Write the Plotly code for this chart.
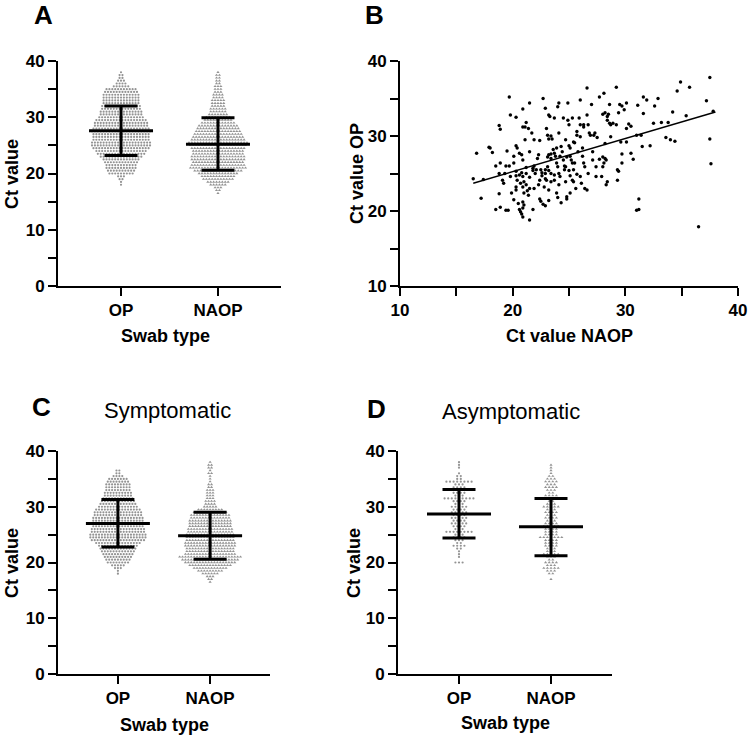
import plotly.graph_objects as go

# ---------------- data ----------------
groups = ["OP", "NAOP"]

# Ct levels used for the dot-plot rows (panels A, C, D)
ct_levels = [16.5, 17.0, 17.5, 18.0, 18.5, 19.0, 19.5, 20.0, 20.5, 21.0, 21.5,
             22.0, 22.5, 23.0, 23.5, 24.0, 24.5, 25.0, 25.5, 26.0, 26.5, 27.0,
             27.5, 28.0, 28.5, 29.0, 29.5, 30.0, 30.5, 31.0, 31.5, 32.0, 32.5,
             33.0, 33.5, 34.0, 34.5, 35.0, 35.5, 36.0, 36.5, 37.0, 37.5, 38.0]

# number of samples at each Ct level
all_op_counts = [0, 0, 0, 1, 1, 2, 3, 9, 10, 11, 11, 12, 13, 15, 17, 18, 20, 21, 21, 20, 20, 20,
                 21, 20, 19, 19, 18, 16, 15, 15, 14, 14, 13, 13, 13, 13, 12, 11, 6, 4, 3, 2, 2, 1]
all_naop_counts = [1, 2, 3, 6, 8, 11, 12, 14, 17, 20, 19, 18, 19, 19, 18, 18, 19, 20, 21, 19, 18, 17,
                   16, 15, 14, 12, 10, 9, 7, 6, 6, 5, 5, 5, 4, 4, 3, 3, 3, 2, 2, 2, 2, 1]
sym_op_counts = [0, 0, 0, 1, 1, 3, 5, 8, 9, 10, 11, 12, 13, 14, 16, 19, 20, 20, 19, 19, 18, 18,
                 18, 18, 17, 17, 16, 14, 13, 12, 11, 10, 10, 9, 9, 9, 8, 7, 4, 2, 2, 0, 0, 0]
sym_naop_counts = [1, 2, 3, 6, 9, 12, 15, 18, 20, 22, 18, 17, 17, 18, 18, 17, 17, 17, 16, 16, 15, 15,
                   15, 14, 14, 12, 9, 5, 4, 4, 3, 3, 3, 3, 2, 2, 1, 1, 1, 2, 1, 2, 2, 1]
asym_op_counts = [0, 0, 0, 0, 0, 0, 0, 3, 0, 1, 1, 1, 2, 4, 2, 3, 4, 3, 8, 3, 4, 5,
                  4, 5, 4, 5, 4, 5, 3, 4, 9, 3, 4, 4, 4, 3, 8, 2, 2, 1, 0, 1, 1, 1]
asym_naop_counts = [0, 1, 0, 2, 3, 5, 3, 4, 2, 3, 5, 3, 3, 4, 4, 4, 7, 4, 4, 4, 5, 4,
                    3, 4, 3, 4, 3, 5, 3, 2, 2, 4, 2, 3, 4, 3, 4, 3, 2, 1, 1, 1, 1, 0]

# mean and mean±SD (OP, NAOP)
all_mean = [27.6, 25.2]
all_sd_low = [23.2, 20.6]
all_sd_high = [32.0, 29.9]
sym_mean = [27.0, 24.8]
sym_sd_low = [22.8, 20.6]
sym_sd_high = [31.3, 29.0]
asym_mean = [28.7, 26.4]
asym_sd_low = [24.4, 21.2]
asym_sd_high = [33.1, 31.5]

# panel B: paired Ct values
naop_ct = [16.5, 16.8, 17.2, 17.4, 17.9, 18.0, 18.2, 18.5, 18.5, 18.8, 18.9, 18.8, 18.9, 18.8, 18.9,
           19.1, 19.2, 19.3, 19.4, 19.6, 19.5, 19.4, 19.7, 19.7, 19.8, 19.8, 19.9, 20.1, 20.1, 20.1,
           20.3, 20.4, 20.3, 20.3, 20.3, 20.4, 20.3, 20.3, 20.5, 20.6, 20.6, 20.8, 20.6, 20.7, 20.8,
           20.7, 20.8, 20.9, 20.9, 21.1, 20.9, 20.9, 21.0, 20.9, 21.0, 20.9, 21.0, 20.9, 20.9, 21.1,
           21.2, 21.2, 21.2, 21.3, 21.4, 21.2, 21.4, 21.5, 21.5, 21.5, 21.5, 21.5, 21.7, 21.8, 21.8,
           21.8, 21.9, 21.9, 22.0, 22.1, 21.9, 22.2, 22.3, 22.3, 22.4, 22.4, 22.5, 22.4, 22.5, 22.6,
           22.6, 22.7, 22.8, 22.7, 22.9, 22.9, 22.9, 22.9, 23.0, 22.9, 23.0, 23.1, 23.1, 23.2, 23.1,
           23.2, 23.2, 23.2, 23.2, 23.2, 23.3, 23.4, 23.4, 23.4, 23.4, 23.4, 23.5, 23.6, 23.7, 23.7,
           23.7, 23.7, 23.8, 23.9, 23.9, 24.0, 23.9, 24.0, 24.0, 24.1, 24.1, 24.1, 24.2, 24.1, 24.2,
           24.3, 24.3, 24.4, 24.5, 24.5, 24.6, 24.7, 24.6, 24.7, 24.7, 24.8, 24.8, 24.8, 24.9, 24.9,
           25.0, 25.0, 25.1, 25.0, 25.1, 25.1, 25.1, 25.2, 25.3, 25.3, 25.3, 25.4, 25.4, 25.5, 25.4,
           25.5, 25.6, 25.7, 25.7, 25.7, 25.8, 25.9, 26.0, 26.0, 26.0, 26.0, 26.1, 26.2, 26.2, 26.3,
           26.3, 26.3, 26.4, 26.4, 26.6, 26.6, 26.6, 26.7, 26.7, 26.8, 26.9, 27.0, 27.1, 27.1, 27.2,
           27.3, 27.4, 27.4, 27.5, 27.7, 27.7, 27.9, 28.0, 28.1, 28.0, 28.0, 28.2, 28.1, 28.2, 28.3,
           28.2, 28.3, 28.4, 28.4, 28.4, 28.5, 28.6, 28.7, 28.6, 28.7, 28.9, 29.2, 29.2, 29.3, 29.3,
           29.4, 29.4, 29.5, 29.7, 29.6, 29.7, 29.7, 29.9, 30.1, 30.1, 30.3, 30.1, 30.5, 30.5, 30.7,
           31.0, 31.0, 31.2, 31.2, 31.1, 31.4, 31.5, 31.6, 31.6, 31.9, 32.2, 32.5, 32.6, 32.9, 33.2,
           33.6, 33.8, 34.0, 34.2, 34.4, 34.6, 34.9, 35.4, 35.7, 36.5, 37.2, 37.5, 37.5, 37.6, 37.8]
op_ct = [24.3, 27.7, 21.7, 24.2, 28.5, 28.4, 27.8, 26.0, 20.2, 31.4, 30.9, 25.0, 26.4, 22.3, 20.5,
         24.1, 23.7, 25.0, 20.1, 20.1, 28.0, 26.0, 26.0, 35.2, 32.8, 24.6, 22.4, 27.3, 26.4, 21.5,
         28.7, 28.4, 32.5, 25.3, 24.7, 24.1, 23.2, 22.8, 21.0, 20.2, 27.7, 27.5, 24.8, 23.7, 25.1,
         19.9, 19.6, 33.6, 31.2, 31.2, 26.8, 24.6, 23.9, 23.2, 22.4, 21.2, 20.8, 20.4, 19.2, 29.5,
         25.8, 25.0, 23.5, 22.7, 22.1, 31.8, 31.0, 23.0, 24.5, 27.9, 18.8, 34.4, 30.4, 20.2, 25.7,
         25.4, 26.0, 23.0, 25.0, 25.5, 29.5, 27.0, 27.5, 23.5, 24.1, 21.6, 21.3, 29.4, 25.5, 25.1,
         24.7, 35.0, 23.2, 20.9, 20.7, 25.5, 25.0, 24.3, 24.1, 33.7, 31.0, 30.1, 25.9, 25.4, 27.2,
         27.5, 32.8, 29.6, 22.8, 21.4, 32.6, 27.6, 27.0, 25.0, 23.9, 30.0, 29.6, 28.2, 27.7, 24.8,
         24.1, 32.4, 27.3, 28.4, 26.4, 25.9, 22.4, 21.8, 33.9, 34.4, 30.4, 25.0, 24.6, 23.5, 27.3,
         28.6, 21.1, 27.9, 26.8, 32.4, 26.0, 25.9, 25.5, 29.5, 23.9, 21.9, 21.6, 27.2, 34.4, 32.1,
         31.5, 28.7, 28.4, 25.4, 24.7, 22.4, 27.3, 26.8, 26.4, 32.4, 24.1, 23.9, 29.2, 29.1, 25.5,
         26.4, 23.0, 30.6, 30.1, 24.9, 27.9, 32.4, 34.8, 31.5, 29.9, 24.6, 23.7, 27.3, 28.4, 31.5,
         31.2, 26.4, 25.9, 23.0, 22.8, 36.4, 32.8, 31.5, 25.0, 30.4, 30.1, 34.2, 27.9, 26.8, 30.1,
         30.4, 25.9, 24.6, 29.8, 35.2, 26.9, 24.6, 27.2, 26.4, 25.9, 32.9, 33.1, 35.7, 27.0, 26.8,
         29.0, 23.5, 23.9, 32.1, 32.6, 32.9, 31.7, 31.5, 34.2, 29.9, 31.7, 31.5, 36.5, 25.5, 24.1,
         25.3, 33.1, 34.2, 34.0, 29.2, 27.6, 26.4, 33.5, 34.4, 31.0, 31.6, 29.2, 31.3, 27.7, 26.9,
         30.1, 20.1, 20.2, 21.6, 34.1, 30.1, 28.6, 33.0, 35.2, 34.8, 28.7, 31.7, 34.0, 35.0, 31.8,
         29.8, 31.8, 29.5, 33.2, 29.3, 36.0, 37.2, 32.7, 36.5, 17.9, 34.7, 37.8, 29.6, 26.3, 33.3]

# linear regression line of OP on NAOP (end points)
fit_naop = [16.5, 38.0]
fit_op = [23.7, 33.2]

# ---------------- layout helpers ----------------
W, H = 748, 737
FONT = "Liberation Sans, Arial, Helvetica, sans-serif"


def fx(p):
    return p / W


def fy(p):
    return 1 - p / H


fig = go.Figure()

DOT_GRAY = "#939393"


def swarm(levels, counts, center, step):
    xs, ys = [], []
    for v, n in zip(levels, counts):
        for i in range(n):
            xs.append(center + (i - (n - 1) / 2.0) * step)
            ys.append(v)
    return xs, ys


def add_dot_panel(xa, ya, counts_pair, mean, lo, hi, px_per_unit, step_px):
    step = step_px / px_per_unit
    half_mean = 32.0 / px_per_unit
    half_cap = 16.5 / px_per_unit
    symbols = ["circle", "triangle-up"]
    sizes = [2.2, 2.8]
    for gi, counts in enumerate(counts_pair):
        c = gi + 1
        xs, ys = swarm(ct_levels, counts, c, step)
        fig.add_trace(go.Scatter(x=xs, y=ys, mode="markers", xaxis=xa, yaxis=ya,
                                 marker=dict(symbol=symbols[gi], size=sizes[gi], color=DOT_GRAY,
                                             line=dict(width=0)),
                                 hoverinfo="skip", showlegend=False, cliponaxis=False))
    bx, by = [], []
    for gi in range(2):
        c = gi + 1
        bx += [c - half_mean, c + half_mean, None,
               c, c, None,
               c - half_cap, c + half_cap, None,
               c - half_cap, c + half_cap, None]
        by += [mean[gi], mean[gi], None,
               lo[gi], hi[gi], None,
               hi[gi], hi[gi], None,
               lo[gi], lo[gi], None]
    fig.add_trace(go.Scatter(x=bx, y=by, mode="lines", xaxis=xa, yaxis=ya,
                             line=dict(color="black", width=3), hoverinfo="skip",
                             showlegend=False, cliponaxis=False))


# panel pixel geometry: (left, right, top, bottom)
geom = {
    "A": (58, 281, 61, 286),
    "B": (400, 738, 61, 286),
    "C": (58, 270, 451, 674),
    "D": (398, 612, 451, 674),
}
xr_cat = {"A": [0.35, 2.65], "C": [0.35, 2.65], "D": [0.337, 2.663]}


def ppu(k):
    return (geom[k][1] - geom[k][0]) / (xr_cat[k][1] - xr_cat[k][0])


add_dot_panel("x", "y", [all_op_counts, all_naop_counts], all_mean, all_sd_low, all_sd_high,
              ppu("A"), 2.9)
add_dot_panel("x3", "y3", [sym_op_counts, sym_naop_counts], sym_mean, sym_sd_low, sym_sd_high,
              ppu("C"), 2.9)
add_dot_panel("x4", "y4", [asym_op_counts, asym_naop_counts], asym_mean, asym_sd_low, asym_sd_high,
              ppu("D"), 3.6)

# panel B scatter + fit
fig.add_trace(go.Scatter(x=naop_ct, y=op_ct, mode="markers", xaxis="x2", yaxis="y2",
                         marker=dict(symbol="circle", size=3.4, color="black", line=dict(width=0)),
                         hoverinfo="skip", showlegend=False))
fig.add_trace(go.Scatter(x=fit_naop, y=fit_op, mode="lines", xaxis="x2", yaxis="y2",
                         line=dict(color="black", width=1.4), hoverinfo="skip", showlegend=False))

tickfont = dict(family=FONT, size=17, color="black", weight="bold")
base = dict(showline=True, linecolor="black", linewidth=2, ticks="outside", ticklen=8,
            tickwidth=2, tickcolor="black", showgrid=False, zeroline=False, tickfont=tickfont,
            fixedrange=True, automargin=False)
minor = dict(dtick=5, ticks="outside", ticklen=8, tickwidth=2, tickcolor="black", showgrid=False)

layout_axes = {}
for key, (xa, ya, xn, yn) in {"A": ("xaxis", "yaxis", "x", "y"),
                              "B": ("xaxis2", "yaxis2", "x2", "y2"),
                              "C": ("xaxis3", "yaxis3", "x3", "y3"),
                              "D": ("xaxis4", "yaxis4", "x4", "y4")}.items():
    l, r, t, b = geom[key]
    xd = [fx(l), fx(r)]
    yd = [fy(b), fy(t)]
    if key == "B":
        layout_axes[xa] = dict(base, domain=xd, anchor=yn, range=[10, 40], tickmode="linear",
                               tick0=10, dtick=10, minor=minor)
        layout_axes[ya] = dict(base, domain=yd, anchor=xn, range=[10, 40], tickmode="linear",
                               tick0=10, dtick=10, minor=minor)
    else:
        layout_axes[xa] = dict(base, domain=xd, anchor=yn, range=xr_cat[key],
                               tickmode="array", tickvals=[1, 2], ticktext=groups)
        layout_axes[ya] = dict(base, domain=yd, anchor=xn, range=[0, 40], tickmode="linear",
                               tick0=0, dtick=10, minor=minor)

ann = []


def text(x, y, s, size, bold=True, angle=0):
    ann.append(dict(x=fx(x), y=fy(y), xref="paper", yref="paper", text=s, showarrow=False,
                    xanchor="center", yanchor="middle", textangle=angle,
                    font=dict(family=FONT, size=size, color="black",
                              weight="bold" if bold else "normal")))


# panel letters
text(43, 15, "A", 26)
text(374, 15, "B", 26)
text(41, 407, "C", 26)
text(376, 409, "D", 26)
# subtitles
text(167, 410, "Symptomatic", 22, bold=False)
text(511, 411, "Asymptomatic", 22, bold=False)
# axis titles
text(12, 174, "Ct value", 18, angle=-90)
text(357, 174, "Ct value OP", 18, angle=-90)
text(12, 563, "Ct value", 18, angle=-90)
text(354, 563, "Ct value", 18, angle=-90)
text(165, 336, "Swab type", 18)
text(569, 336, "Ct value NAOP", 18)
text(164, 725, "Swab type", 18)
text(505, 723, "Swab type", 18)

fig.update_layout(width=W, height=H, margin=dict(l=0, r=0, t=0, b=0, autoexpand=False),
                  paper_bgcolor="white", plot_bgcolor="white", showlegend=False,
                  annotations=ann, **layout_axes)

# remove the browser's default page margin so the figure sits at the window's corner
fig.write_html("out.html", config={"displayModeBar": False, "staticPlot": True},
               post_script="document.body.style.margin='0';document.body.style.padding='0';"
                           "document.documentElement.style.overflow='hidden';")
